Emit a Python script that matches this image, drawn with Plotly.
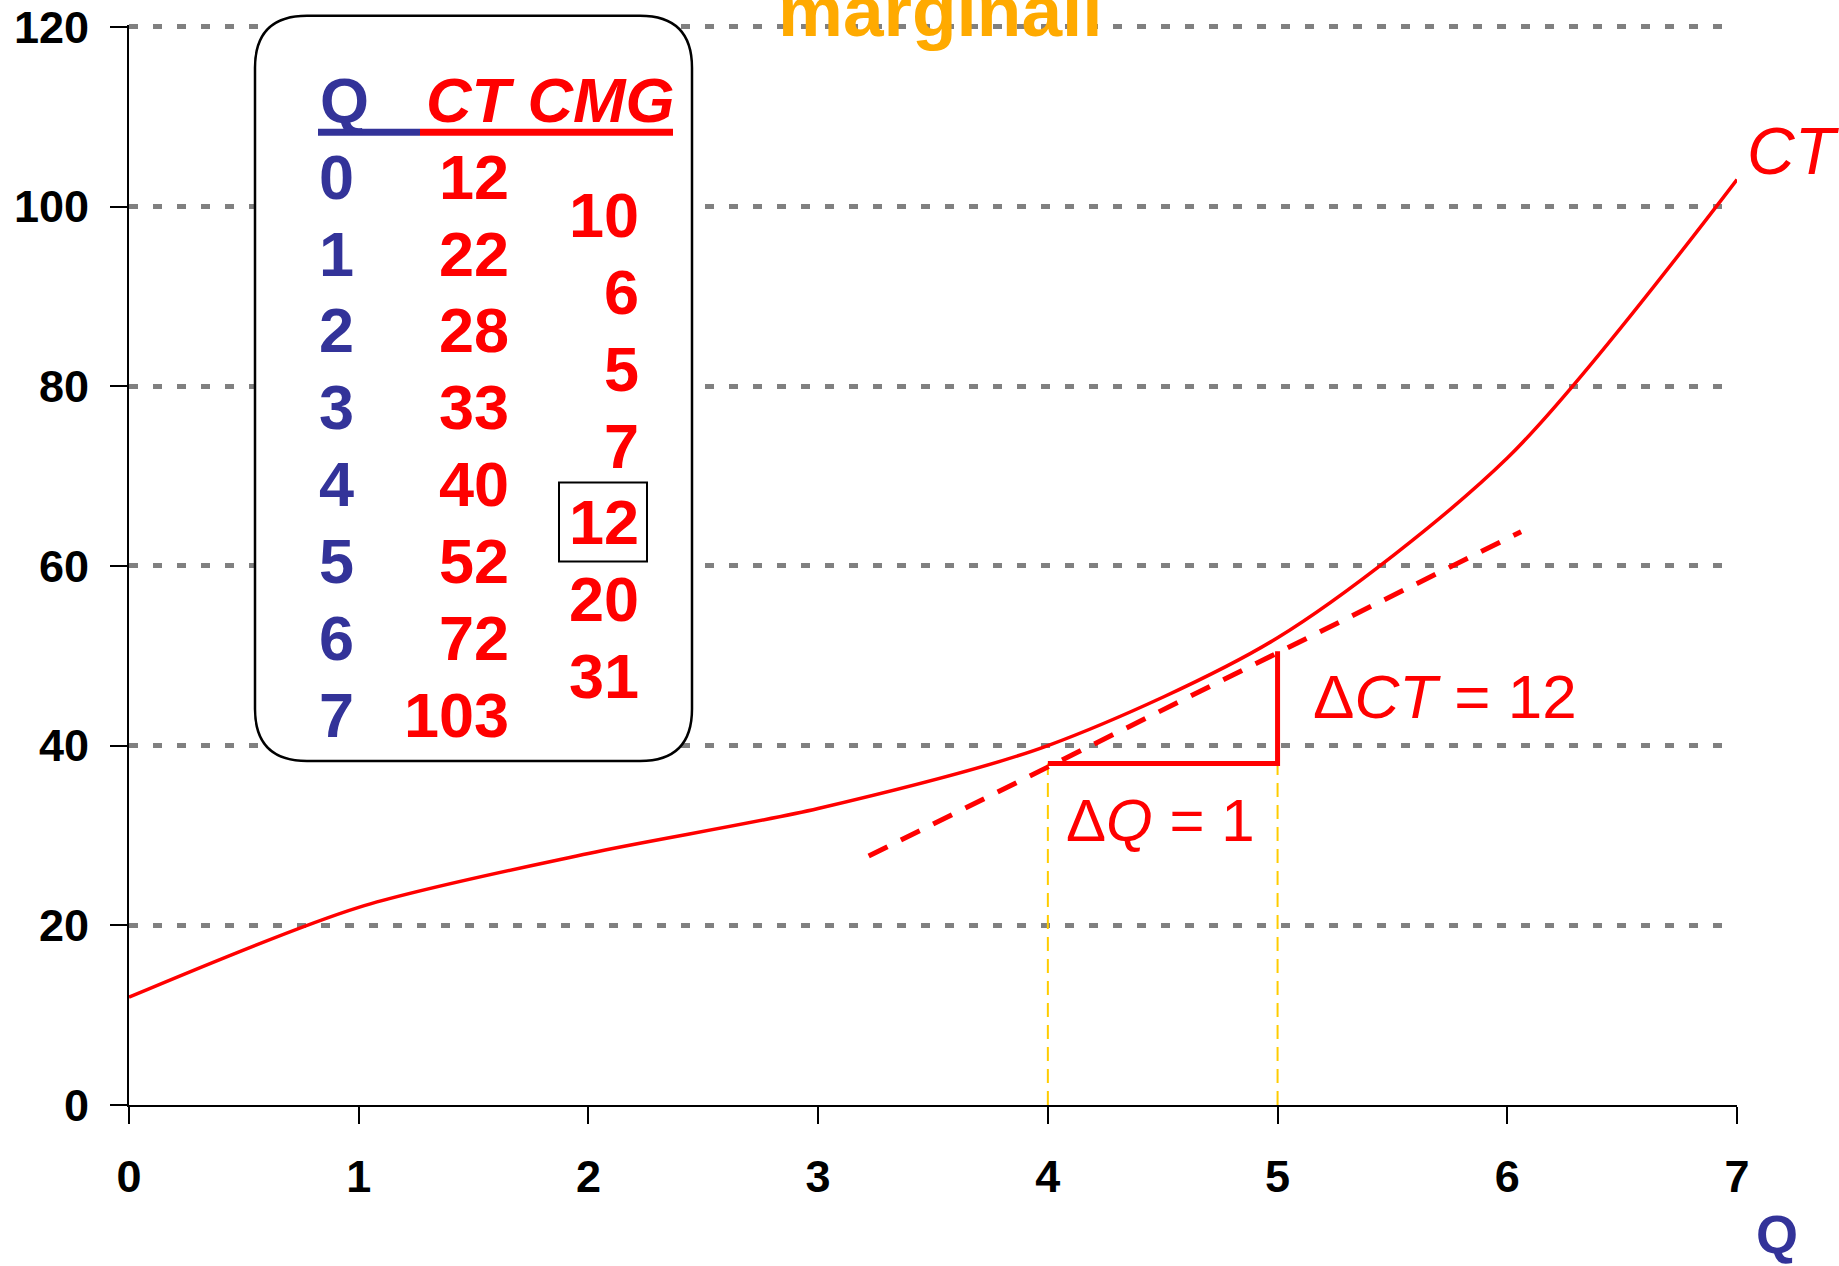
import plotly.graph_objects as go

# ---------------- data ----------------
Q = [0, 1, 2, 3, 4, 5, 6, 7]
CT = [12, 22, 28, 33, 40, 52, 72, 103]
CMG = [10, 6, 5, 7, 12, 20, 31]
x_ticks = [0, 1, 2, 3, 4, 5, 6, 7]
y_ticks = [0, 20, 40, 60, 80, 100, 120]
tangent_q = [3.22, 6.06]
tangent_ct = [27.7, 63.8]
delta_q = [4, 5, 5]
delta_ct = [38, 38, 50.5]
guide_q = [4, 5]
guide_top = 38
highlight_row = 4  # CMG value boxed (12)

# ---------------- layout geometry (page pixels) ----------------
W, H = 1839, 1266
Y_MAX = 120.2                    # tiny headroom so the 120 grid line is drawn
L, R, B = 129, 1737, 1105
Y120 = 27
T = Y120 - (Y_MAX - 120) * (B - Y120) / 120


def px(x):
    return (x - L) / (R - L)


def py(y):
    return (B - y) / (B - T)


RED = "#FF0000"
BLUE = "#333399"
ORANGE = "#FFAA00"
GOLD = "#FFCC00"
FONT = "Liberation Sans"

fig = go.Figure()

# yellow dashed guides
for gq in guide_q:
    fig.add_trace(go.Scatter(x=[gq, gq], y=[0, guide_top], mode="lines",
                             line=dict(color=GOLD, width=2, dash="14px,8px"),
                             hoverinfo="skip", showlegend=False))

# CT curve
fig.add_trace(go.Scatter(x=Q, y=CT, mode="lines",
                         line=dict(color=RED, width=3.5, shape="spline", smoothing=0.8),
                         showlegend=False))

# tangent
fig.add_trace(go.Scatter(x=tangent_q, y=tangent_ct, mode="lines",
                         line=dict(color=RED, width=5, dash="21px,15px"),
                         showlegend=False))

# delta triangle
fig.add_trace(go.Scatter(x=delta_q, y=delta_ct, mode="lines",
                         line=dict(color=RED, width=5), showlegend=False))

shapes = []
# rounded box
x0, x1, y0, y1 = px(255), px(692), py(761), py(16)
rx, ry = 52 / (R - L), 52 / (B - T)
path = (f"M {x0+rx},{y1} L {x1-rx},{y1} Q {x1},{y1} {x1},{y1-ry} "
        f"L {x1},{y0+ry} Q {x1},{y0} {x1-rx},{y0} "
        f"L {x0+rx},{y0} Q {x0},{y0} {x0},{y0+ry} "
        f"L {x0},{y1-ry} Q {x0},{y1} {x0+rx},{y1} Z")
shapes.append(dict(type="path", path=path, xref="paper", yref="paper",
                   fillcolor="white", line=dict(color="black", width=2.5), layer="above"))
# header underlines
shapes.append(dict(type="line", xref="paper", yref="paper", x0=px(318), x1=px(420),
                   y0=py(132.5), y1=py(132.5), line=dict(color=BLUE, width=7), layer="above"))
shapes.append(dict(type="line", xref="paper", yref="paper", x0=px(420), x1=px(673),
                   y0=py(132.5), y1=py(132.5), line=dict(color=RED, width=7), layer="above"))

ROW0, ROWH = 177, 76.8
CMG0 = ROW0 + ROWH / 2
# box around highlighted CMG
hy = CMG0 + ROWH * highlight_row
shapes.append(dict(type="rect", xref="paper", yref="paper", x0=px(559), x1=px(647),
                   y0=py(hy + 39), y1=py(hy - 40), line=dict(color="black", width=2),
                   fillcolor="rgba(0,0,0,0)", layer="above"))

ann = []
# title
ann.append(dict(text="marginali", x=px(940), y=py(11), xref="paper", yref="paper",
                showarrow=False, xanchor="center", yanchor="middle",
                font=dict(family=FONT, size=73, color=ORANGE, weight="bold")))
# table header
ann.append(dict(text="Q", x=px(318), y=py(100), xref="paper", yref="paper",
                showarrow=False, xanchor="left", yanchor="middle",
                font=dict(family=FONT, size=63, color=BLUE, weight="bold")))
ann.append(dict(text="CT CMG", x=px(424), y=py(100), xref="paper", yref="paper",
                showarrow=False, xanchor="left", yanchor="middle",
                font=dict(family=FONT, size=63, color=RED, weight="bold", style="italic")))
for i, (q, c) in enumerate(zip(Q, CT)):
    yy = ROW0 + ROWH * i
    ann.append(dict(text=str(q), x=px(336), y=py(yy), xref="paper", yref="paper",
                    showarrow=False, xanchor="center", yanchor="middle",
                    font=dict(family=FONT, size=63, color=BLUE, weight="bold")))
    ann.append(dict(text=str(c), x=px(511), y=py(yy), xref="paper", yref="paper",
                    showarrow=False, xanchor="right", yanchor="middle",
                    font=dict(family=FONT, size=63, color=RED, weight="bold")))
for j, m in enumerate(CMG):
    yy = CMG0 + ROWH * j
    ann.append(dict(text=str(m), x=px(641), y=py(yy), xref="paper", yref="paper",
                    showarrow=False, xanchor="right", yanchor="middle",
                    font=dict(family=FONT, size=63, color=RED, weight="bold")))

# curve labels
ann.append(dict(text="<i>CT</i>", x=px(1745), y=py(151), xref="paper", yref="paper",
                showarrow=False, xanchor="left", yanchor="middle",
                font=dict(family=FONT, size=66, color=RED)))
ann.append(dict(text="Δ<i>CT</i> = 12", x=px(1311), y=py(697), xref="paper", yref="paper",
                showarrow=False, xanchor="left", yanchor="middle",
                font=dict(family=FONT, size=62, color=RED)))
ann.append(dict(text="Δ<i>Q</i> = 1", x=px(1064), y=py(821), xref="paper", yref="paper",
                showarrow=False, xanchor="left", yanchor="middle",
                font=dict(family=FONT, size=60, color=RED)))
# axis label
ann.append(dict(text="Q", x=px(1777), y=py(1234), xref="paper", yref="paper",
                showarrow=False, xanchor="center", yanchor="middle",
                font=dict(family=FONT, size=54, color=BLUE, weight="bold")))

fig.update_layout(
    width=W, height=H,
    margin=dict(l=L, r=W - R, t=T, b=H - B, pad=0, autoexpand=False),
    paper_bgcolor="white", plot_bgcolor="white",
    shapes=shapes, annotations=ann,
    xaxis=dict(range=[0, 7], tickvals=x_ticks, ticktext=[str(v) for v in x_ticks],
               automargin=False, ticklabeloverflow="allow",
               showgrid=False, zeroline=False, showline=True, linecolor="black", linewidth=2,
               ticks="outside", ticklen=17, tickwidth=2, tickcolor="black",
               tickfont=dict(family=FONT, size=45, color="black", weight="bold"),
               ticklabelstandoff=14),
    yaxis=dict(range=[0, Y_MAX], tickvals=y_ticks, ticktext=[str(v) for v in y_ticks],
               automargin=False, ticklabeloverflow="allow",
               showgrid=True, gridcolor="#808080", gridwidth=4.5, griddash="9px,15px",
               zeroline=False, showline=True, linecolor="black", linewidth=2,
               ticks="outside", ticklen=17, tickwidth=2, tickcolor="black",
               tickfont=dict(family=FONT, size=45, color="black", weight="bold"),
               ticklabelstandoff=12),
)

fig.write_html("out.html",
               config={"displayModeBar": False},
               post_script="document.body.style.margin='0';document.body.style.overflow='hidden';")
